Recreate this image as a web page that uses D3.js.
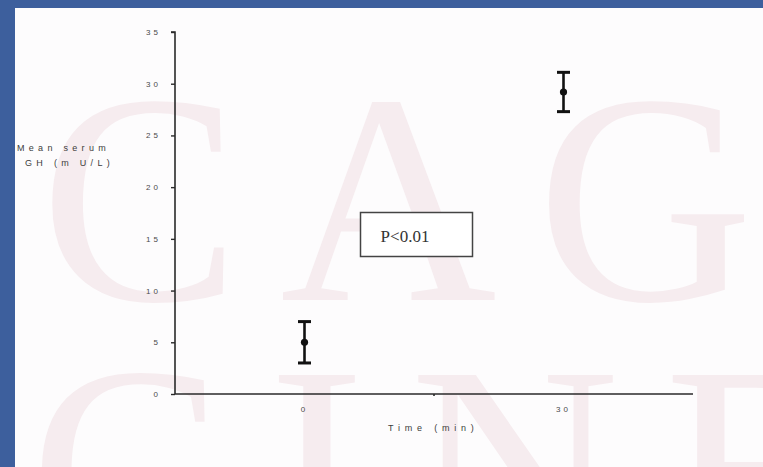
<!DOCTYPE html>
<html>
<head>
<meta charset="utf-8">
<script src="https://cdn.jsdelivr.net/npm/d3@7"></script>
<style>
  html, body { margin: 0; padding: 0; background: #fff; }
  svg { display: block; }
</style>
</head>
<body>
<script>
// ---- data ----
const categories = ["0", "30"];           // Time (min)
const meanValues = [5.0, 29.2];           // Mean serum GH (mU/L)
const errValues  = [2.0, 1.9];            // error bar half-length
const yTicks = [0, 5, 10, 15, 20, 25, 30, 35];
const annotation = "P<0.01";

const W = 763, H = 467;
const svg = d3.select("body").append("svg").attr("width", W).attr("height", H);

// background & slide frame
svg.append("rect").attr("width", W).attr("height", H).attr("fill", "#fdfcfd");

// watermark (faint)
const wm = svg.append("g").attr("fill", "#f6ecef").attr("font-family", "Liberation Serif, Times New Roman, serif");
wm.append("text").attr("x", 40).attr("y", 300).attr("font-size", 300).attr("letter-spacing", 40).text("CAG");
wm.append("text").attr("x", 30).attr("y", 565).attr("font-size", 290).attr("letter-spacing", 45).text("CINE");

const frame = svg.append("g");
frame.append("rect").attr("x", 0).attr("y", 0).attr("width", W).attr("height", 8).attr("fill", "#3d5f9d");
frame.append("rect").attr("x", 0).attr("y", 0).attr("width", 15).attr("height", H).attr("fill", "#3d5f9d");

// ---- scales ----
const y = d3.scaleLinear().domain([0, 35]).range([394, 32]);
const x = d3.scaleBand().domain(categories).range([175, 693]).padding(0);

const ink = "#2a2a2a";
const labFont = "Liberation Sans, Arial, sans-serif";

// y axis
const yAxis = d3.axisLeft(y).tickValues(yTicks).tickSize(4).tickPadding(10).tickFormat(d3.format("d"));
const gy = svg.append("g").attr("transform", "translate(175,0)").call(yAxis);
gy.select(".domain").attr("stroke", ink).attr("stroke-width", 1.6).attr("d", `M-4,${y(35)}H0V${y(0)}`);
gy.selectAll(".tick line").attr("stroke", ink).attr("stroke-width", 1.4);
gy.selectAll(".tick text").attr("fill", "#4a4a4a").attr("font-size", 8)
  .attr("font-family", labFont).attr("letter-spacing", 3);

// x axis: labels at band centres, ticks at band edges
const gx = svg.append("g").attr("transform", "translate(0,394)");
gx.append("line").attr("x1", x.range()[0]).attr("x2", x.range()[1]).attr("stroke", ink).attr("stroke-width", 1.6);
const edges = [x(categories[1])];
gx.selectAll("line.edge").data(edges).enter().append("line").attr("class", "edge")
  .attr("x1", d => d).attr("x2", d => d).attr("y1", 0).attr("y2", 2).attr("stroke", ink).attr("stroke-width", 1.6);
gx.selectAll("text.xl").data(categories).enter().append("text").attr("class", "xl")
  .attr("x", d => x(d) + x.bandwidth() / 2).attr("y", 18)
  .attr("text-anchor", "middle").attr("fill", "#4a4a4a").attr("font-size", 8)
  .attr("font-family", labFont).attr("letter-spacing", 3)
  .text(d => d);

// axis titles
const lab = svg.append("g").attr("fill", "#3c3c3c").attr("font-size", 9)
  .attr("font-family", labFont);
lab.append("text").attr("x", 17).attr("y", 151).attr("letter-spacing", 4.3).text("Mean serum");
lab.append("text").attr("x", 25).attr("y", 166).attr("letter-spacing", 4.3).text("GH (m U/L)");
lab.append("text").attr("x", 388).attr("y", 431).attr("letter-spacing", 4.8).text("Time (min)");

// error bars
const pts = categories.map((c, i) => ({ c, m: meanValues[i], e: errValues[i] }));
const eb = svg.append("g").attr("stroke", "#111").attr("fill", "#111");
const cx = d => x(d.c) + x.bandwidth() / 2;
eb.selectAll("line.v").data(pts).enter().append("line").attr("class", "v")
  .attr("x1", cx).attr("x2", cx).attr("y1", d => y(d.m + d.e)).attr("y2", d => y(d.m - d.e)).attr("stroke-width", 2.6);
eb.selectAll("line.t").data(pts).enter().append("line").attr("class", "t")
  .attr("x1", d => cx(d) - 6.5).attr("x2", d => cx(d) + 6.5)
  .attr("y1", d => y(d.m + d.e)).attr("y2", d => y(d.m + d.e)).attr("stroke-width", 3);
eb.selectAll("line.b").data(pts).enter().append("line").attr("class", "b")
  .attr("x1", d => cx(d) - 6.5).attr("x2", d => cx(d) + 6.5)
  .attr("y1", d => y(d.m - d.e)).attr("y2", d => y(d.m - d.e)).attr("stroke-width", 3);
eb.selectAll("circle").data(pts).enter().append("circle")
  .attr("cx", cx).attr("cy", d => y(d.m)).attr("r", 3.6).attr("stroke", "none");

// annotation box
const ann = svg.append("g");
ann.append("rect").attr("x", 360.5).attr("y", 212.5).attr("width", 112).attr("height", 44)
  .attr("fill", "#fff").attr("stroke", "#444").attr("stroke-width", 1.5);
ann.append("text").attr("x", 405).attr("y", 242).attr("text-anchor", "middle")
  .attr("font-family", "Liberation Serif, Times New Roman, serif").attr("font-size", 17)
  .attr("fill", "#333").text(annotation);
</script>
</body>
</html>
